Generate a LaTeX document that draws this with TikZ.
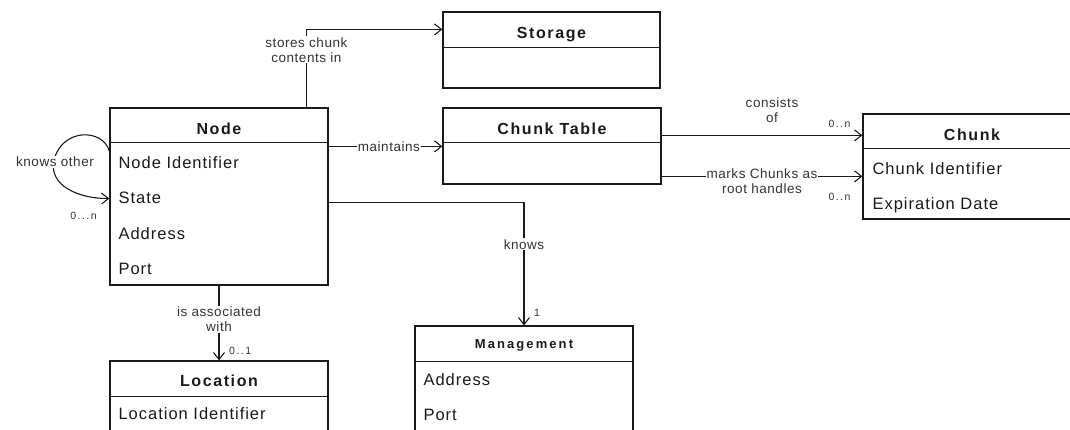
\documentclass[tikz,border=0pt]{standalone}
\usepackage{fontspec}
\setmainfont{Liberation Sans}
\newfontfamily\titlefont[LetterSpace=10]{Liberation Sans}
\newfontfamily\mgmtfont[LetterSpace=16]{Liberation Sans}
\newfontfamily\attrfont[LetterSpace=6]{Liberation Sans}
\newfontfamily\lblfont[LetterSpace=4]{Liberation Sans}
\newfontfamily\multfont[LetterSpace=14]{Liberation Sans}
\usetikzlibrary{arrows.meta,calc}
\definecolor{ink}{HTML}{1A1A1A}
\definecolor{lblink}{HTML}{333333}
\begin{document}
\begin{tikzpicture}[x=1pt,y=-1pt,
  classbox/.style={draw=ink,line width=1.2pt,rectangle,inner sep=0pt,minimum width=218pt},
  sepline/.style={draw=ink,line width=1.2pt},
  ctitle/.style={anchor=base,inner sep=0pt,font=\titlefont\fontsize{16}{18}\selectfont\bfseries,text=ink},
  mtitle/.style={anchor=base,inner sep=0pt,font=\mgmtfont\fontsize{13}{15}\selectfont\bfseries,text=ink},
  attr/.style={anchor=base west,inner sep=0pt,font=\attrfont\fontsize{16.5}{19}\selectfont,text=ink},
  conn/.style={draw=ink,line width=1.1pt},
  arr/.style={conn,-{Straight Barb[length=7pt,width=11pt,line width=1.1pt]}},
  lbl/.style={font=\lblfont\fontsize{13.5}{15}\selectfont,text=lblink,align=center,inner sep=1pt},
  wlbl/.style={lbl,fill=white},
  mult/.style={font=\multfont\fontsize{10.5}{12}\selectfont,text=lblink,inner sep=0pt}
]
\useasboundingbox (0,0) rectangle (1070,429);

% ---------- Storage ----------
\node[classbox,minimum width=217pt,minimum height=76pt] (storage) at (551.5,50) {};
\draw[sepline] ($(storage.north west)+(0,36)$) -- ($(storage.north east)+(0,36)$);
\node[ctitle] (storaget) at ($(storage.north)+(0,27)$) {Storage};

% ---------- Node ----------
\node[classbox,minimum height=177pt] (node) at (219,196.5) {};
\draw[sepline] ($(node.north west)+(0,35)$) -- ($(node.north east)+(0,35)$);
\node[ctitle] (nodet) at ($(node.north)+(0,27)$) {Node};
\node[attr] (nodea1) at ($(node.north west)+(9,61)$) {Node Identifier};
\node[attr] (nodea2) at ($(node.north west)+(9,96.5)$) {State};
\node[attr] (nodea3) at ($(node.north west)+(9,132)$) {Address};
\node[attr] (nodea4) at ($(node.north west)+(9,167.5)$) {Port};

% ---------- Chunk Table ----------
\node[classbox,minimum height=76pt] (ctable) at (552,146) {};
\draw[sepline] ($(ctable.north west)+(0,35)$) -- ($(ctable.north east)+(0,35)$);
\node[ctitle] (ctablet) at ($(ctable.north)+(0,27)$) {Chunk Table};

% ---------- Chunk ----------
\node[classbox,minimum height=105pt] (chunk) at (972,166.5) {};
\draw[sepline] ($(chunk.north west)+(0,35)$) -- ($(chunk.north east)+(0,35)$);
\node[ctitle] (chunkt) at ($(chunk.north)+(0,27)$) {Chunk};
\node[attr] (chunka1) at ($(chunk.north west)+(10,61)$) {Chunk Identifier};
\node[attr] (chunka2) at ($(chunk.north west)+(10,96.5)$) {Expiration Date};

% ---------- Management ----------
\node[classbox,minimum height=134pt] (mgmt) at (524,393) {};
\draw[sepline] ($(mgmt.north west)+(0,36)$) -- ($(mgmt.north east)+(0,36)$);
\node[mtitle] (mgmtt) at ($(mgmt.north)+(0,23)$) {Management};
\node[attr] (mgmta1) at ($(mgmt.north west)+(9,60)$) {Address};
\node[attr] (mgmta2) at ($(mgmt.north west)+(9,95.5)$) {Port};

% ---------- Location ----------
\node[classbox,minimum height=99pt] (loc) at (219,410.5) {};
\draw[sepline] ($(loc.north west)+(0,36)$) -- ($(loc.north east)+(0,36)$);
\node[ctitle] (loct) at ($(loc.north)+(0,26)$) {Location};
\node[attr] (loca1) at ($(loc.north west)+(9,59.5)$) {Location Identifier};

% ---------- Connectors ----------
% stores chunk contents in
\draw[arr] ($(node.north west)+(197,0)$) |- node[wlbl,pos=0.37] (lstore) {stores chunk\\contents in} ($(storage.north west)+(0,18)$);

% maintains
\draw[arr] ($(node.north east)+(0,39)$) -- node[wlbl,pos=0.53] (lmaint) {maintains} ($(ctable.north west)+(0,39)$);

% knows (management)
\draw[arr] ($(node.north east)+(0,95)$) -| node[wlbl,pos=0.67] (lknows) {knows} (mgmt.north);
\node[mult,anchor=west] (m1) at ($(mgmt.north)+(10,-13)$) {1};

% is associated with
\draw[arr] (node.south) -- node[wlbl,pos=0.45] (lassoc) {is associated\\with} (loc.north);
\node[mult,anchor=west] (m01) at ($(loc.north)+(10,-10)$) {0..1};

% consists of
\draw[arr] ($(ctable.north east)+(0,28)$) -- ($(chunk.north west)+(0,22)$);
\node[lbl] (lcons) at (772,110) {consists\\of};
\node[mult] (m0n1) at (839.5,124) {0..n};

% marks Chunks as root handles
\draw[arr] ($(ctable.north east)+(0,69)$) -- ($(chunk.north west)+(0,63)$);
\node[wlbl,anchor=north,inner sep=0pt,inner xsep=1pt] (lmarks) at (762,169) {marks Chunks as\\root handles};
\node[mult] (m0n2) at (839.5,197) {0..n};

% knows other (self loop)
\draw[arr] ($(node.north west)+(0,44)$) .. controls (103,128) and (62,128) .. (54,160)
  .. controls (48,186) and (80,199) .. ($(node.north west)+(0,91)$);
\node[wlbl] (lother) at (55,162) {knows other};
\node[mult] (m0n3) at (83.5,216) {0...n};
\end{tikzpicture}
\end{document}
